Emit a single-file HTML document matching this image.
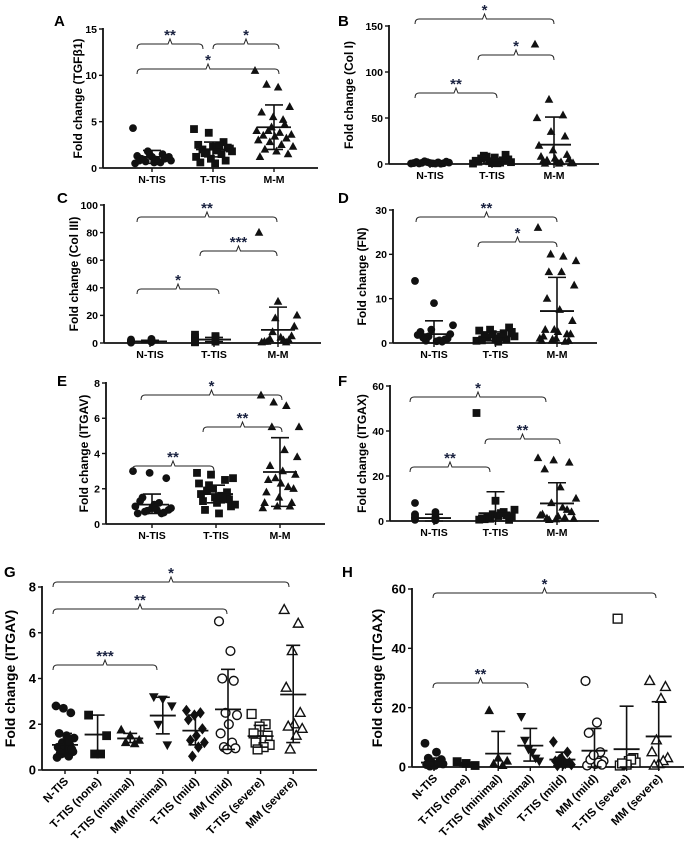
<!DOCTYPE html>
<html><head><meta charset="utf-8"><style>
html,body{margin:0;padding:0;background:#fff;}
svg{display:block;font-family:"Liberation Sans",Arial,sans-serif;}
</style></head><body>
<svg id="fig" width="684" height="863" viewBox="0 0 684 863" xmlns="http://www.w3.org/2000/svg"></svg>
<script>
// ---- data ----
const catsABC = ["N-TIS","T-TIS","M-M"];
const catsGH = ["N-TIS","T-TIS (none)","T-TIS (minimal)","MM (minimal)","T-TIS (mild)","MM (mild)","T-TIS (severe)","MM (severe)"];

const aVals = [
 [4.3,1.8,1.5,1.3,1.2,1.1,1.0,0.9,0.8,0.7,0.6,0.5,1.4,1.0,0.8,0.6,1.2,0.9,0.7],
 [4.2,3.8,2.8,2.5,2.3,2.2,2.0,1.9,1.8,1.7,1.5,1.2,1.0,0.8,0.6,0.5,2.1,1.6,2.4],
 [10.5,9.0,8.7,6.6,6.0,5.5,4.7,4.0,4.0,3.8,3.6,3.5,3.4,3.2,3.0,2.8,2.5,2.3,2.0,1.8,1.5,1.2,4.4,5.2]];
const aMean = [1.2,2.0,4.4];
const aHi = [1.9,2.8,6.8];
const aLo = [0.5,1.2,2.0];

const bVals = [
 [0.5,1,1.5,2,2.5,3,0.8,1.2,0.3,0.6,1.8,2.2,0.4,1.0,0.7],
 [0.5,1,2,3,5,8,10,9,4,6,1.5,2.5,0.8,3.5,7],
 [130,70,53,50,35,30,20,15,10,8,6,5,3,2,1,0.5,0.5,1,4,2]];
const bMean = [1.2,3.5,21];
const bHi = [2.5,6,51];
const bLo = [0.3,1,0];

const cVals = [
 [0.5,1,1.5,2,2.5,3,0.8,1.2,0.3,0.6,1.8,2.2,0.4,1.0],
 [0.5,1,2,3,4,5,6,2.5,1.5,3.5,0.8,4.5,1.2,2],
 [80,30,20,18,12,8,5,3,2,1,0.5,1,2,0.5,4]];
const cMean = [1.2,2.5,9.5];
const cHi = [2,4,26];
const cLo = [0.5,1,0];

const dVals = [
 [14,9,4,3,2,1.5,1,0.5,0.8,1.2,0.3,2.5,0.6,1.8,0.4],
 [0.5,1,1.5,2,2.5,3,3.5,1.2,0.8,1.8,2.2,0.6,1.4,2.8,0.3],
 [26,20,19.5,18.5,16,16,13,10,7.5,5,3,2.5,2,1.5,1,0.5,0.5,3,2,1,0.8,0.3]];
const dMean = [2,1.5,7.2];
const dHi = [5,2.5,14.8];
const dLo = [0,0.5,0];

const eVals = [
 [3.0,2.9,2.6,1.5,1.2,1.0,0.9,0.8,0.7,0.6,0.6,1.1,0.9,0.75,0.65,1.3,0.8],
 [2.9,2.8,2.5,2.3,2.0,1.8,1.7,1.5,1.4,1.3,1.2,1.0,0.8,0.6,2.6,1.9,1.6,1.1,2.2,1.45],
 [7.3,6.9,6.7,5.5,5.5,4.2,3.8,3.3,3.0,2.8,2.5,2.3,2.0,1.8,1.5,1.2,1.2,1.0,1.0,0.9,2.6,2.1]];
const eMean = [1.1,1.7,2.95];
const eHi = [1.7,2.2,4.9];
const eLo = [0.6,1.2,1.0];

const fVals = [
 [8,4,3,2,1.5,1,0.5,0.8,1.2,0.3,2.5,0.6,1.8,0.4],
 [48,9,5,3,2,1,0.5,1.5,2.5,0.8,4,1.2,3.5,0.6,2.2],
 [28,27,26,23,15,10,8,5,3,2,1,0.5,1.5,2.5,0.8,4,1.2,6]];
const fMean = [1.3,3.5,7.8];
const fHi = [3,13,17];
const fLo = [0,0,0];

const gVals = [
 [2.8,2.7,2.5,1.6,1.5,1.4,1.2,1.1,1.0,0.9,0.8,0.7,0.6,0.55,1.0,0.9,0.75,1.3],
 [2.4,1.5,0.7,0.7],
 [1.75,1.5,1.3,1.2,1.15],
 [3.2,3.1,2.8,2.0,1.1],
 [2.6,2.5,2.4,2.2,1.8,1.5,1.3,1.2,1.0,0.6],
 [6.5,5.2,4.0,3.9,2.5,2.4,2.0,1.6,1.2,1.0,0.95,0.9],
 [2.45,2.0,1.9,1.6,1.5,1.3,1.2,1.1,1.0,0.9],
 [7.0,6.4,5.2,3.6,2.5,2.0,1.9,1.8,1.5,0.9]];
const gMean = [1.1,1.55,1.38,2.38,1.72,2.65,1.48,3.3];
const gHi = [1.6,2.4,1.6,3.18,2.4,4.4,1.95,5.45];
const gLo = [0.7,0.7,1.2,1.58,1.1,0.9,1.0,1.2];

const hVals = [
 [8,5,3,2,1.5,1,0.5,0.8,1.2,0.3,2.5,0.6],
 [1.8,1.2,0.5],
 [19,3,2,1,0.5],
 [17,9,6,5,3,2],
 [8.5,5,3,2,1.5,1,0.5,0.8,1.2,2.5],
 [29,15,11.5,5,3,2,1,0.5,1.5,2.5,0.8,4],
 [50,3,2,1,0.5,1.5,2.5,0.8,1.2],
 [29,27,23,9,5,3,2,1,0.5]];
const hMean = [1.5,1.0,4.5,7.2,2.5,5.5,6.0,10.3];
const hHi = [3,1.5,12,13,5,13,20.5,22];
const hLo = [0.3,0.5,0,2,0.5,0,0,0];

// ---- drawing ----
const NS="http://www.w3.org/2000/svg";
const fig=document.getElementById('fig');
function el(tag,attrs,parent){const e=document.createElementNS(NS,tag);for(const k in attrs)e.setAttribute(k,attrs[k]);(parent||fig).appendChild(e);return e;}

function marker(g,shape,x,y,r){
  const open=shape.startsWith('o');const s=open?shape.slice(1):shape;
  const st=open?{fill:'#fff',stroke:'#111','stroke-width':1.4}:{fill:'#111'};
  let m;
  if(s==='c'){m=el('circle',Object.assign({cx:x,cy:y,r:r},st),g);}
  else if(s==='s'){m=el('rect',Object.assign({x:x-r,y:y-r,width:2*r,height:2*r},st),g);}
  else if(s==='t'){m=el('polygon',Object.assign({points:`${x},${y-r*1.2} ${x-r*1.1},${y+r*0.8} ${x+r*1.1},${y+r*0.8}`},st),g);}
  else if(s==='v'){m=el('polygon',Object.assign({points:`${x},${y+r*1.2} ${x-r*1.1},${y-r*0.8} ${x+r*1.1},${y-r*0.8}`},st),g);}
  else if(s==='d'){m=el('polygon',Object.assign({points:`${x},${y-r*1.3} ${x-r},${y} ${x},${y+r*1.3} ${x+r},${y}`},st),g);}
  
  
}

function panel(p){
  const g=el('g',{});
  
  
  const ys=v=>p.y0+(Math.max(v,0)/p.max)*(p.yTop-p.y0);
  const xs=i=>p.c0+i*p.step;
  const L=el('text',{x:p.lx,y:p.ly,'font-size':15,'font-weight':'bold'},g);L.textContent=p.letter;
  
  const ya=el('line',{x1:p.ax,y1:p.yTop-1,x2:p.ax,y2:p.y0,stroke:'#111','stroke-width':1.8},g);
  
  const xa=el('line',{x1:p.ax,y1:p.y0,x2:p.xEnd,y2:p.y0,stroke:'#111','stroke-width':1.8},g);
  
  p.ticks.forEach(t=>{
    const y=ys(t);
    el('line',{x1:p.ax-4,y1:y,x2:p.ax,y2:y,stroke:'#111','stroke-width':1.4},g);
    const tx=el('text',{x:p.ax-6,y:y+p.tf*0.36,'font-size':p.tf,'font-weight':'bold','text-anchor':'end'},g);
    tx.textContent=t;
  });
  const yt=el('text',{x:0,y:0,'font-size':p.titleF,'font-weight':'bold','text-anchor':'middle',transform:`translate(${p.titleX},${(p.yTop+p.y0)/2}) rotate(-90)`},g);
  yt.textContent=p.title;
  p.cats.forEach((c,i)=>{
    const x=xs(i);
    el('line',{x1:x,y1:p.y0,x2:x,y2:p.y0+4,stroke:'#111','stroke-width':1.4},g);
    let t;
    if(p.rot){t=el('text',{x:0,y:0,'font-size':p.cf,'font-weight':'bold','text-anchor':'end',transform:`translate(${x+4},${p.y0+12}) rotate(-45)`},g);}
    else{t=el('text',{x:x,y:p.y0+15,'font-size':p.cf,'font-weight':'bold','text-anchor':'middle'},g);}
    t.textContent=c;
  });
  p.vals.forEach((arr,i)=>{
    const n=arr.length;
    arr.forEach((v,j)=>{
      const k=(j*7)%n;
      const off=n>1?((k/(n-1))-0.5)*2*p.hw:0;
      marker(g,p.shapes[i],xs(i)+off,ys(v),p.r);
    });
    const x=xs(i);
    const ml=el('line',{x1:x-p.mw,y1:ys(p.mean[i]),x2:x+p.mw,y2:ys(p.mean[i]),stroke:'#111','stroke-width':1.8},g);
    
    const sl=el('line',{x1:x,y1:ys(p.hi[i]),x2:x,y2:ys(p.lo[i]),stroke:'#111','stroke-width':1.6},g);
    
    [p.hi[i],p.lo[i]].forEach(v=>{el('line',{x1:x-p.cw,y1:ys(v),x2:x+p.cw,y2:ys(v),stroke:'#111','stroke-width':1.6},g);});
  });
  p.br.forEach(b=>{
    const [x1,x2,y,s]=b;const m=(x1+x2)/2;
    const pth=el('path',{d:`M${x1},${y+5} Q${x1},${y} ${x1+4},${y} L${m-2},${y} L${m},${y-5} L${m+2},${y} L${x2-4},${y} Q${x2},${y} ${x2},${y+5}`,fill:'none',stroke:'#222','stroke-width':1},g);
    
    const st=el('text',{x:m,y:y-4,'font-size':p.sf,'font-weight':'bold','text-anchor':'middle',fill:'#1a2240'},g);
    st.textContent=s;
  });
}

const top3={cats:catsABC,shapes:['c','s','t'],rot:false,tf:10.5,cf:10.5,titleF:12,r:3.9,hw:19,mw:17,cw:9,sf:15};
const gh8={cats:catsGH,shapes:['c','s','t','v','d','oc','os','ot'],rot:true,tf:13,cf:11.5,titleF:14,r:4.4,hw:9,mw:13,cw:7,sf:15};

panel(Object.assign({},top3,{letter:'A',lx:54,ly:26,ax:103,yTop:29,y0:168,xEnd:318,c0:152,step:61,max:15,ticks:[0,5,10,15],title:'Fold change (TGFβ1)',titleX:82,vals:aVals,mean:aMean,hi:aHi,lo:aLo,
  br:[[137,203,44,'**'],[213,279,44,'*'],[137,279,69,'*']]}));
panel(Object.assign({},top3,{letter:'B',lx:338,ly:26,ax:389,yTop:26,y0:164,xEnd:599,c0:430,step:62,max:150,ticks:[0,50,100,150],title:'Fold change (Col I)',titleX:353,vals:bVals,mean:bMean,hi:bHi,lo:bLo,
  br:[[415,554,19,'*'],[478,554,55,'*'],[415,497,93,'**']]}));
panel(Object.assign({},top3,{letter:'C',lx:57,ly:203,ax:104,yTop:205,y0:343,xEnd:321,c0:150,step:64,max:100,ticks:[0,20,40,60,80,100],title:'Fold change (Col III)',titleX:78,vals:cVals,mean:cMean,hi:cHi,lo:cLo,
  br:[[137,277,217,'**'],[200,277,251,'***'],[137,219,289,'*']]}));
panel(Object.assign({},top3,{letter:'D',lx:338,ly:203,ax:393,yTop:210,y0:343,xEnd:597,c0:434,step:61.5,max:30,ticks:[0,10,20,30],title:'Fold change (FN)',titleX:366,vals:dVals,mean:dMean,hi:dHi,lo:dLo,
  br:[[416,557,217,'**'],[478,557,242,'*']]}));
panel(Object.assign({},top3,{letter:'E',lx:57,ly:386,ax:106,yTop:383,y0:524,xEnd:325,c0:152,step:64,max:8,ticks:[0,2,4,6,8],title:'Fold change (ITGAV)',titleX:88,vals:eVals,mean:eMean,hi:eHi,lo:eLo,
  br:[[141,282,395,'*'],[203,282,427,'**'],[132,214,466,'**']]}));
panel(Object.assign({},top3,{letter:'F',lx:338,ly:386,ax:390,yTop:386,y0:521,xEnd:599,c0:434,step:61.5,max:60,ticks:[0,20,40,60],title:'Fold change (ITGAX)',titleX:366,vals:fVals,mean:fMean,hi:fHi,lo:fLo,
  br:[[410,546,397,'*'],[485,560,439,'**'],[410,490,467,'**']]}));
panel(Object.assign({},gh8,{letter:'G',lx:4,ly:577,ax:42,yTop:587,y0:770,xEnd:317,c0:65,step:32.6,max:8,ticks:[0,2,4,6,8],title:'Fold change (ITGAV)',titleX:15,vals:gVals,mean:gMean,hi:gHi,lo:gLo,
  br:[[53,289,582,'*'],[53,227,609,'**'],[53,157,665,'***']]}));
panel(Object.assign({},gh8,{letter:'H',lx:342,ly:577,ax:412,yTop:589,y0:767,xEnd:684,c0:434,step:32.1,max:60,ticks:[0,20,40,60],title:'Fold change (ITGAX)',titleX:382,vals:hVals,mean:hMean,hi:hHi,lo:hLo,
  br:[[433,656,593,'*'],[433,528,683,'**']]}));
</script>
</body></html>
